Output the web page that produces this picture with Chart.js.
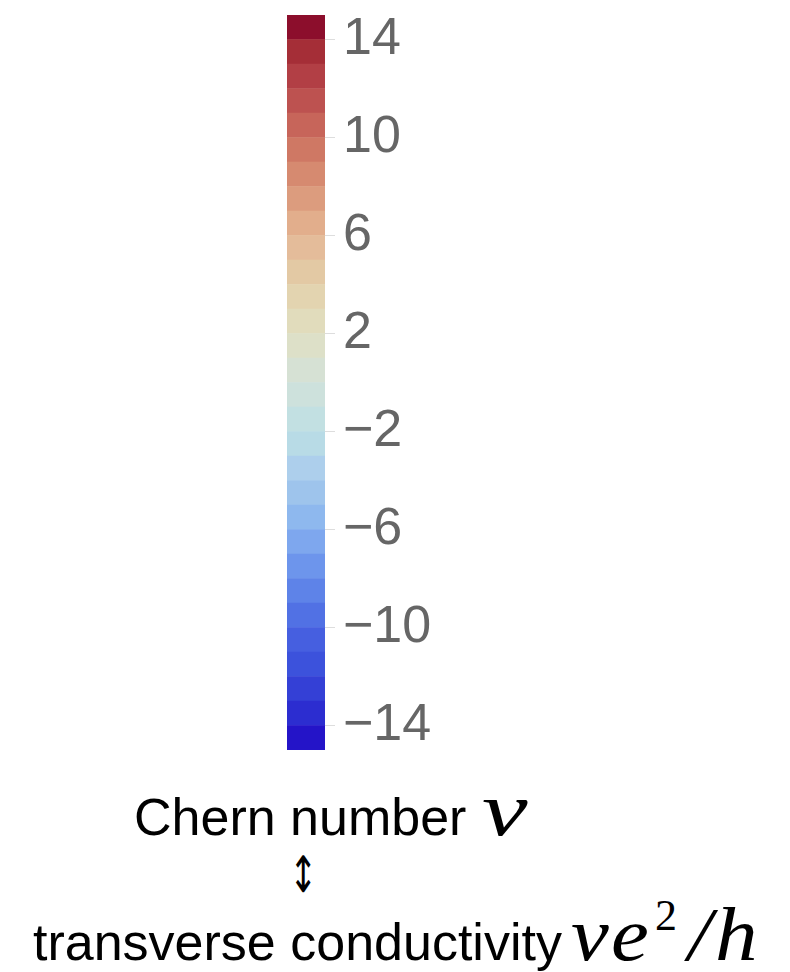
<!DOCTYPE html>
<html>
<head>
<meta charset="utf-8">
<script src="https://cdn.jsdelivr.net/npm/chart.js@4/dist/chart.umd.min.js"></script>
<style>
  html, body { margin: 0; padding: 0; background: #ffffff; }
  #wrap { position: relative; width: 790px; height: 972px; overflow: hidden; }
  #cv { position: absolute; left: 0; top: 0; }
  .txt { position: absolute; white-space: nowrap; color: #000; font-family: "Liberation Sans", Arial, sans-serif; line-height: 1; }
  .math { font-family: "Liberation Serif", "Times New Roman", serif; font-style: italic; transform: scaleX(1.12); transform-origin: 0 0; }
</style>
</head>
<body>
<div id="wrap">
  <canvas id="cv" width="790" height="770"></canvas>
  <!-- line 1: baseline ~835 -->
  <div class="txt" style="left:134px; top:791px; font-size:52px;">Chern number</div>
  <div class="txt math" style="left:482px; top:771px; font-size:76px; transform:scaleX(1.35);">ν</div>
  <div class="txt" style="left:289px; top:850px; font-size:50px; font-family:'DejaVu Sans'; transform:scaleX(0.68); transform-origin:0 0;">↕</div>
  <!-- line 2: baseline ~960 -->
  <div class="txt" style="left:33px; top:916px; font-size:52px;">transverse conductivity</div>
  <div class="txt math" style="left:571px; top:896px; font-size:76px;">ν</div>
  <div class="txt math" style="left:611px; top:896px; font-size:76px;">e</div>
  <div class="txt" style="left:655px; top:894px; font-size:44px; font-family:'Liberation Serif', serif;">2</div>
  <div class="txt math" style="left:688px; top:896px; font-size:76px;">/</div>
  <div class="txt math" style="left:715px; top:896px; font-size:76px;">h</div>
</div>
<script>
// Colour bins: Chern number ν from -15 to 15, one cell per unit
const binLow  = [-15,-14,-13,-12,-11,-10,-9,-8,-7,-6,-5,-4,-3,-2,-1,0,1,2,3,4,5,6,7,8,9,10,11,12,13,14];
const binHigh = [-14,-13,-12,-11,-10,-9,-8,-7,-6,-5,-4,-3,-2,-1,0,1,2,3,4,5,6,7,8,9,10,11,12,13,14,15];
const binColors = [
  '#2414c8','#2c2dd0','#3440d6','#3c52dc','#465fe0','#5171e4','#5e83e8','#6d95ec','#7ea7ee','#8eb8ee',
  '#9ec4ec','#adcfec','#b8dbe6','#c2e0e2','#cde1dc','#d6e1d4','#dde0c8','#e1dcbc','#e3d4b0','#e3c9a4',
  '#e4bc9a','#e2ae8c','#dc9c7e','#d68a70','#cf7864','#c7655a','#bd5250','#b23f45','#a52e37','#8c0e2c'
];
const tickValues = [-14, -10, -6, -2, 2, 6, 10, 14];
const tickLabels = ['\u221214', '\u221210', '\u22126', '\u22122', '2', '6', '10', '14'];
const categories = ['ν'];

const datasets = binLow.map((lo, i) => ({
  label: String(lo),
  data: [[lo, binHigh[i]]],
  backgroundColor: binColors[i],
  borderWidth: 0,
  grouped: false,
  barPercentage: 1,
  categoryPercentage: 1
}));

new Chart(document.getElementById('cv'), {
  type: 'bar',
  data: { labels: categories, datasets: datasets },
  options: {
    responsive: false,
    animation: false,
    layout: { padding: { left: 287, top: 15, bottom: 20, right: 265 } },
    plugins: { legend: { display: false }, tooltip: { enabled: false } },
    scales: {
      x: { display: false },
      y: {
        type: 'linear',
        position: 'right',
        min: -15,
        max: 15,
        afterBuildTicks: (scale) => { scale.ticks = tickValues.map(v => ({ value: v })); },
        afterFit: (scale) => {
          scale.width = 200;
          scale.paddingTop = 0;
          scale.paddingBottom = 0;
        },
        ticks: {
          callback: (v) => tickLabels[tickValues.indexOf(v)],
          font: { family: "'Liberation Sans', Arial, sans-serif", size: 52 },
          color: '#666666',
          padding: 8
        },
        grid: { drawOnChartArea: false, drawTicks: true, tickLength: 10, color: '#dddddd' },
        border: { display: false }
      }
    }
  }
});
</script>
</body>
</html>
